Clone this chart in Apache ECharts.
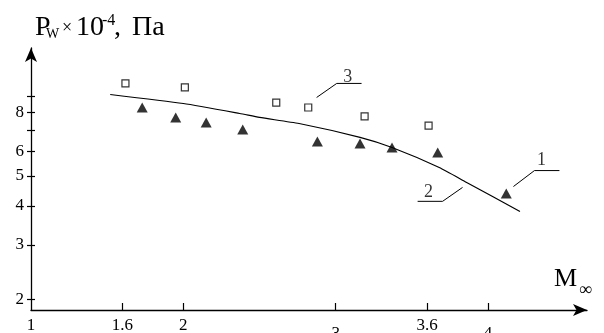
<!DOCTYPE html>
<html>
<head>
<meta charset="utf-8">
<script src="https://cdn.jsdelivr.net/npm/echarts@6/dist/echarts.min.js"></script>
<style>html,body{margin:0;padding:0;background:#fff}</style>
</head>
<body>
<div id="chart" style="width:604px;height:333px"></div>
<script>
// experiment 1 (filled triangles), M_inf and Pw*10^-4
const triX = [1.73, 1.95, 2.15, 2.39, 2.88, 3.16, 3.37, 3.67, 4.12];
const triY = [8.30, 7.71, 7.43, 7.05, 6.45, 6.35, 6.17, 5.94, 4.39];
// experiment 3 (open squares)
const sqX = [1.62, 2.01, 2.61, 2.82, 3.19, 3.61];
const sqY = [9.92, 9.63, 8.61, 8.30, 7.77, 7.26];
// calculation 2 (curve)
const curveX = [1.52, 2.00, 2.37, 2.50, 2.76, 3.16, 3.37, 3.68, 3.86, 4.21];
const curveY = [9.14, 8.55, 7.94, 7.71, 7.37, 6.65, 6.17, 5.32, 4.76, 3.84];
// ticks
const xTicks = [1.6, 2, 3, 3.6, 4];
const xLabels = [1, 1.6, 2, 3, 3.6, 4];
const yTicks = [2, 3, 4, 5, 6, 7, 8, 9];
const yLabels = [2, 3, 4, 5, 6, 8];
// curve numbers and their leader lines (data coords)
const noteNames = ['3', '2', '1'];
const noteLeaders = [
  [[2.875, 8.94], [3.007, 9.92], [3.17, 9.92]],
  [[3.833, 4.59], [3.702, 4.14], [3.538, 4.14]],
  [[4.167, 4.62], [4.305, 5.20], [4.469, 5.20]]
];
const notePos = [[3.079, 10.4], [3.61, 4.42], [4.351, 5.61]];

const zip = (a, b) => a.map((v, i) => [v, b[i]]);
const serif = '"Liberation Serif", "DejaVu Serif", serif';

let myChart = echarts.init(document.getElementById('chart'), null, { renderer: 'canvas' });

let series = [
  {
    type: 'line',
    data: zip(curveX, curveY),
    smooth: 0.2,
    symbol: 'none',
    lineStyle: { color: '#000', width: 1.2 },
    z: 2
  },
  {
    type: 'scatter',
    data: zip(sqX, sqY),
    symbol: 'rect',
    symbolSize: 7,
    itemStyle: { color: '#fff', borderColor: '#000', borderWidth: 1.2 },
    z: 3
  },
  {
    type: 'scatter',
    data: zip(triX, triY),
    symbol: 'triangle',
    symbolSize: [11, 10],
    itemStyle: { color: '#000' },
    z: 3
  },
  {
    type: 'scatter',
    data: notePos.map((p, i) => [p[0], p[1], noteNames[i]]),
    symbolSize: 0,
    label: {
      show: true,
      position: 'inside',
      formatter: p => p.data[2],
      color: '#000',
      fontFamily: serif,
      fontSize: 18
    },
    z: 4
  }
];
noteLeaders.forEach(l => {
  series.push({
    type: 'line',
    data: l,
    symbol: 'none',
    lineStyle: { color: '#000', width: 1 },
    z: 2
  });
});

myChart.setOption({
  animation: false,
  backgroundColor: '#fff',
  grid: { left: 31, right: 17, top: 48, bottom: 23, outerBoundsMode: 'none' },
  xAxis: {
    type: 'value',
    min: 1,
    max: 4.65,
    splitLine: { show: false },
    axisLine: {
      onZero: false,
      symbol: ['none', 'arrow'],
      symbolSize: [9, 14],
      lineStyle: { color: '#000', width: 1.3 }
    },
    axisTick: {
      inside: true,
      length: 7,
      customValues: xTicks,
      lineStyle: { color: '#000', width: 1.2 }
    },
    axisLabel: {
      customValues: xLabels,
      margin: 7,
      formatter: v => (v === 3 || v === 4) ? '{lo|' + v + '}' : '{n|' + v + '}',
      rich: {
        n: { fontFamily: serif, fontSize: 17, color: '#000' },
        lo: { fontFamily: serif, fontSize: 17, color: '#000', padding: [8, 0, 0, 0] }
      }
    }
  },
  yAxis: [
    {
      type: 'log',
      logBase: 10,
      min: 1.85,
      max: 12.9,
      splitLine: { show: false },
      axisLine: {
        onZero: false,
        symbol: ['none', 'arrow'],
        symbolSize: [9, 14],
        lineStyle: { color: '#000', width: 1.3 }
      },
      axisTick: {
        length: 4,
        customValues: yTicks,
        lineStyle: { color: '#000', width: 1.2 }
      },
      axisLabel: {
        customValues: yLabels,
        margin: 7,
        fontFamily: serif,
        fontSize: 17,
        color: '#000'
      }
    },
    {
      // second copy only for the inner half of the crossing ticks
      type: 'log',
      logBase: 10,
      min: 1.85,
      max: 12.9,
      position: 'left',
      splitLine: { show: false },
      axisLine: { show: false },
      axisTick: {
        inside: true,
        length: 4,
        customValues: yTicks,
        lineStyle: { color: '#000', width: 1.2 }
      },
      axisLabel: { show: false }
    }
  ],
  graphic: [
    { type: 'text', left: 35, top: 14, style: { text: 'P', font: '28px ' + serif, fill: '#000' } },
    { type: 'text', left: 46, top: 27, style: { text: 'W', font: '14px ' + serif, fill: '#000' } },
    { type: 'text', left: 62, top: 19, style: { text: '×', font: '18px ' + serif, fill: '#000' } },
    { type: 'text', left: 76, top: 14, style: { text: '10', font: '28px ' + serif, fill: '#000' } },
    { type: 'text', left: 102, top: 13, style: { text: '-4', font: '16px ' + serif, fill: '#000' } },
    { type: 'text', left: 114, top: 14, style: { text: ',', font: '28px ' + serif, fill: '#000' } },
    { type: 'text', left: 132, top: 14, style: { text: 'Па', font: '28px ' + serif, fill: '#000' } },
    { type: 'text', left: 554, top: 266, style: { text: 'M', font: '26px ' + serif, fill: '#000' } },
    { type: 'text', left: 579, top: 281, style: { text: '∞', font: '18px ' + serif, fill: '#000' } }
  ],
  series: series
});
</script>
</body>
</html>
